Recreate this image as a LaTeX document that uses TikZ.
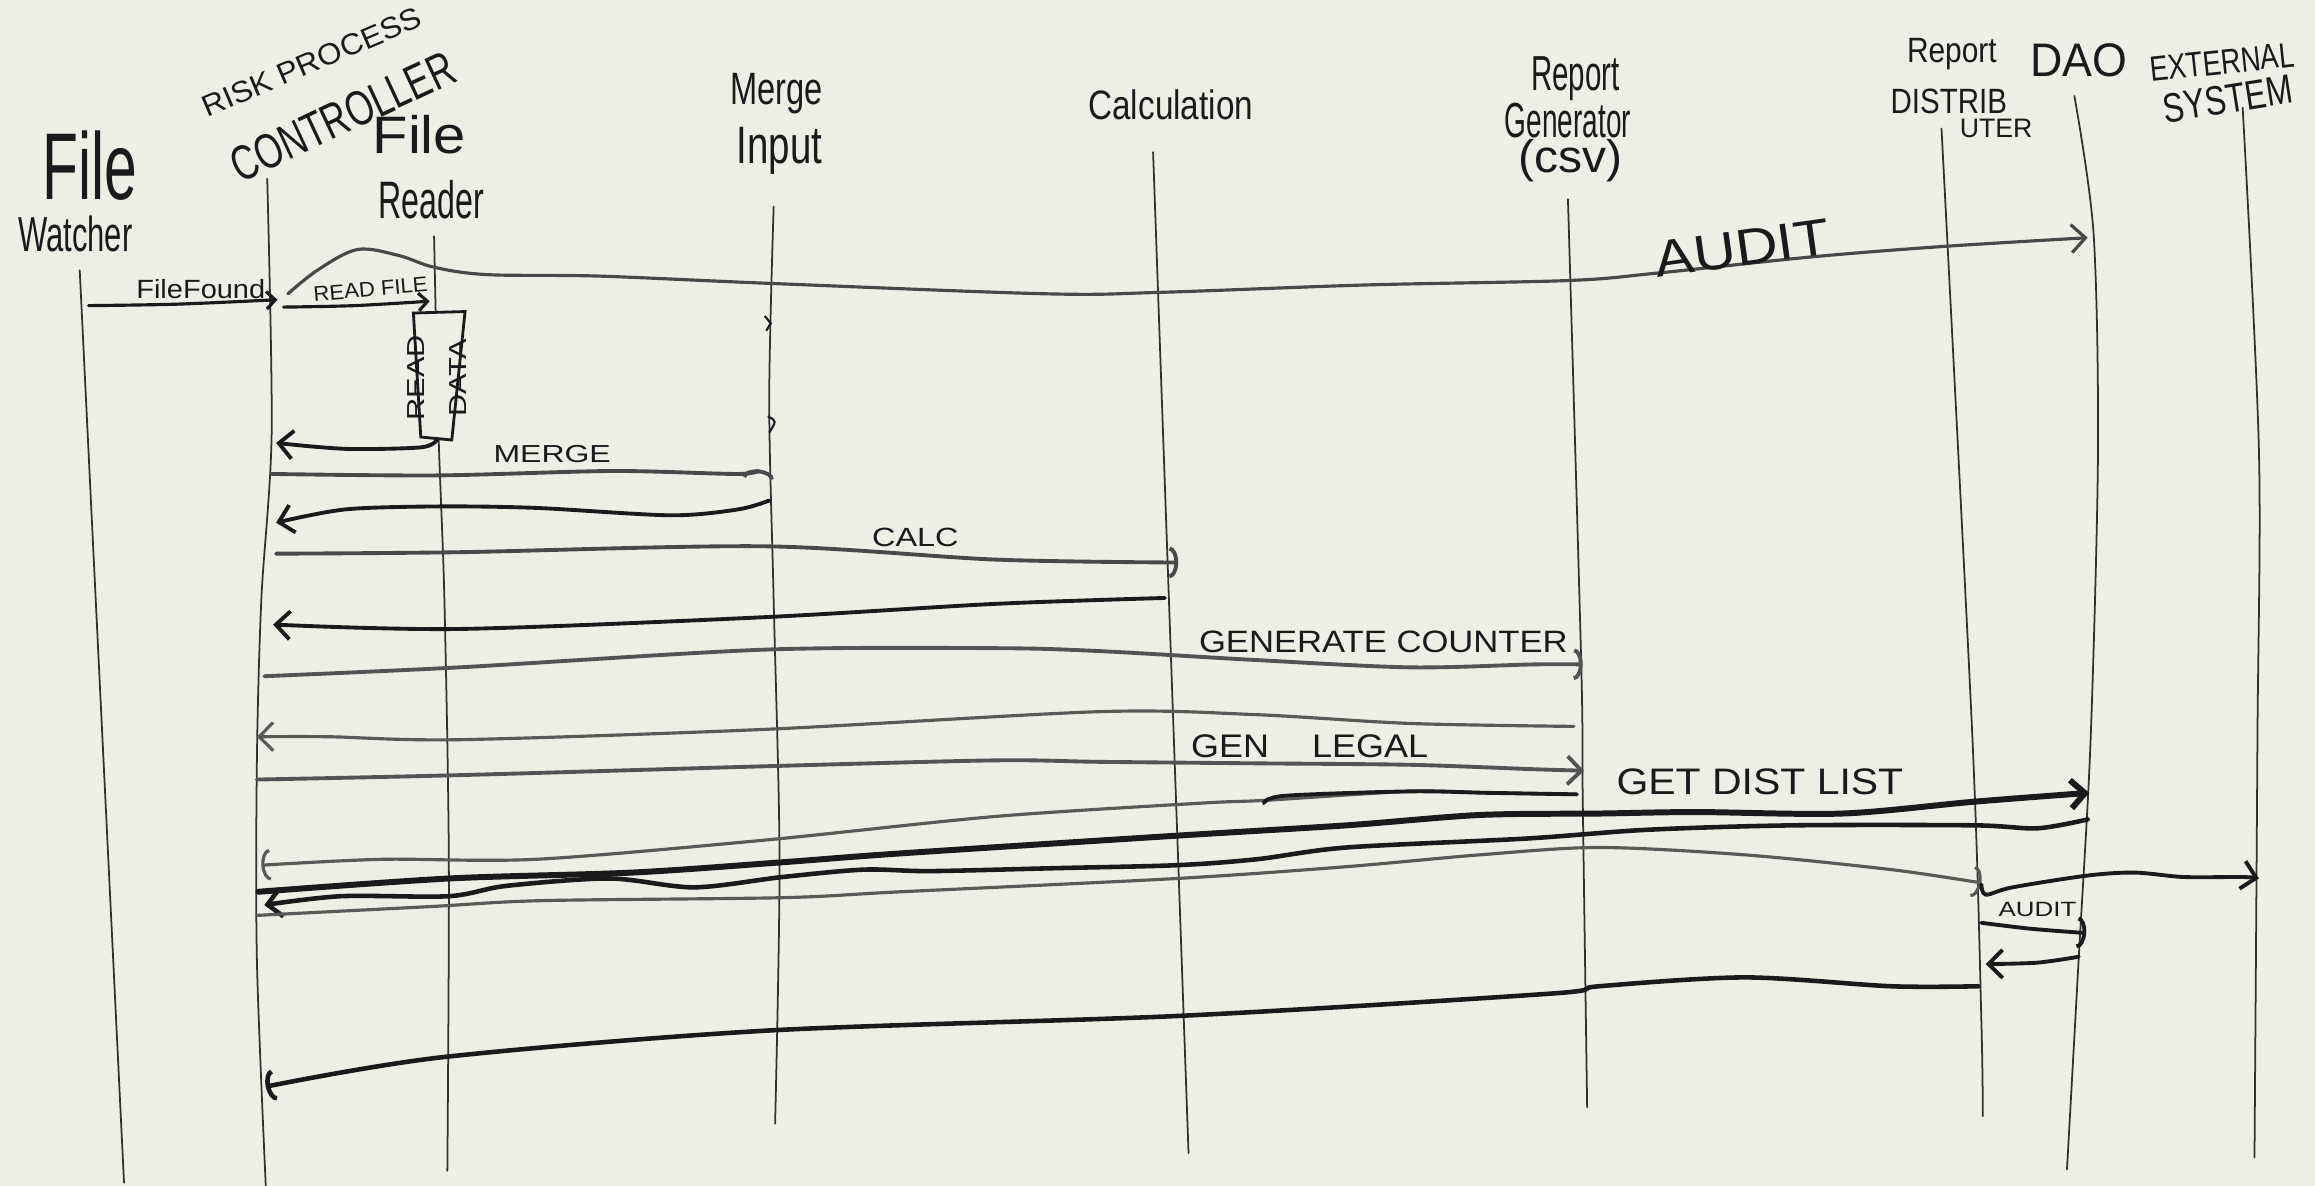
\documentclass[tikz,border=0pt]{standalone}
\usepackage{fontspec}
\setmainfont{Liberation Sans}
\usepackage{graphicx}
\usetikzlibrary{arrows.meta}
\definecolor{board}{RGB}{236,239,229}
\definecolor{ink}{RGB}{26,26,28}
\definecolor{inkg}{RGB}{88,90,88}
% size, horizontal squeeze, text
\newcommand{\hw}[3]{\fontsize{#1}{#1}\selectfont\scalebox{#2}[1]{#3}}

\begin{document}
\begin{tikzpicture}[x=0.014764cm, y=-0.014764cm,
  life/.style={draw=ink!90, line width=0.5pt, line cap=round},
  msg/.style={draw=ink, line width=1.1pt, line cap=round, line join=round},
  msgg/.style={draw=inkg, line width=0.9pt, line cap=round, line join=round},
  msgt/.style={draw=ink, line width=1.7pt, line cap=round, line join=round},
  barb/.style={-{Straight Barb[length=4pt,width=8pt]}},
  sbarb/.style={-{Straight Barb[length=2.5pt,width=5pt]}},
  arc/.style={-{Arc Barb[length=2.5pt,width=9pt]}},
  lbl/.style={inner sep=0pt, text=ink, anchor=base},
  tag/.style={inner sep=0pt, text=ink},
]
\useasboundingbox (0,0) rectangle (1568,803);
\fill[board] (0,0) rectangle (1568,803);

% ---------- participant headings ----------
\node[lbl] (fwA) at (61,135) {\hw{27}{0.62}{File}};
\node[lbl] (fwB) at (51,170) {\hw{14}{0.63}{Watcher}};
\node[tag, rotate=23] (ctlA) at (211,42) {\hw{8.5}{1.05}{RISK PROCESS}};
\node[tag, rotate=25] (ctlB) at (232,79) {\hw{14}{0.72}{CONTROLLER}};
\node[lbl] (frA) at (284,104) {\hw{15}{1.1}{File}};
\node[lbl] (frB) at (292,148) {\hw{15}{0.61}{Reader}};
\node[lbl] (miA) at (526,71) {\hw{12.9}{0.72}{Merge}};
\node[lbl] (miB) at (528,111) {\hw{15}{0.73}{Input}};
\node[lbl] (caA) at (793,81) {\hw{11.7}{0.81}{Calculation}};
\node[lbl] (rgA) at (1067,61) {\hw{14}{0.6}{Report}};
\node[lbl] (rgB) at (1062,93) {\hw{14}{0.57}{Generator}};
\node[lbl] (rgC) at (1064,117) {\hw{13}{1.05}{(csv)}};
\node[lbl] (rdA) at (1322,42) {\hw{10}{0.85}{Report}};
\node[lbl] (rdB) at (1320,77) {\hw{10}{0.84}{DISTRIB}};
\node[lbl] (rdC) at (1352,93) {\hw{7.6}{1.0}{UTER}};
\node[lbl] (dao) at (1408,52) {\hw{13.4}{0.95}{DAO}};
\node[tag, rotate=6] (exA) at (1505,42) {\hw{10}{0.78}{EXTERNAL}};
\node[tag, rotate=9] (exB) at (1509,67) {\hw{11.7}{0.77}{SYSTEM}};

% ---------- lifelines ----------
\coordinate (fwT) at (54,183);   \coordinate (fwE) at (84,801);
\coordinate (ctT) at (181,121);  \coordinate (ctE) at (180,803);
\coordinate (frT) at (294,160);  \coordinate (frE) at (303,793);
\coordinate (miT) at (524,140);  \coordinate (miE) at (525,761);
\coordinate (caT) at (781,103);  \coordinate (caE) at (805,781);
\coordinate (rgT) at (1062,135); \coordinate (rgE) at (1075,750);
\coordinate (rdT) at (1315,87);  \coordinate (rdE) at (1343,756);
\coordinate (daT) at (1405,65);  \coordinate (daE) at (1400,792);
\coordinate (exT) at (1519,73);  \coordinate (exE) at (1527,784);

\draw[life] (fwT) -- (fwE);
\draw[life] plot[smooth, tension=0.5] coordinates {(ctT) (184,293) (177,406) (174,515) (174,650) (ctE)};
\draw[life] plot[smooth, tension=0.5] coordinates {(frT) (297,293) (301,406) (304,583) (frE)};
\draw[life] plot[smooth, tension=0.5] coordinates {(miT) (521,271) (524,406) (528,583) (miE)};
\draw[life] (caT) -- (caE);
\draw[life] plot[smooth, tension=0.5] coordinates {(rgT) (1071,450) (1072,540) (rgE)};
\draw[life] plot[smooth, tension=0.5] coordinates {(rdT) (1336,501) (1342,691) (rdE)};
\draw[life] plot[smooth, tension=0.5] coordinates {(daT) (1418,158) (1421,305) (1416,501) (1408,648) (daE)};
\draw[life] plot[smooth, tension=0.5] coordinates {(exT) (1530,305) (1529,501) (exE)};

% small ticks on the Merge Input lifeline
\draw[ink, line width=0.6pt] (518,214) -- (522,219) -- (519,224);
\draw[ink, line width=0.6pt] (520,282) .. controls (526,285) .. (521,293);

% ---------- activation box on the file reader ----------
\filldraw[fill=board, draw=ink, line width=0.8pt] (280,212) -- (315,211) -- (306,298) -- (285,296) -- cycle;
\node[tag, rotate=90, align=center] (tData) at (296,256)
  {\hw{7}{1.25}{READ}\\\hw{7}{1.25}{DATA}};

% ---------- messages ----------
% file found
\coordinate (m1a) at (60,207);  \coordinate (m1b) at (188,203);
\draw[msg, sbarb, line width=0.9pt] plot[smooth] coordinates {(m1a) (120,206) (m1b)};
\node[lbl] (tFound) at (136,202) {\hw{7.5}{1.1}{FileFound}};

% read file
\coordinate (m2a) at (192,208); \coordinate (m2b) at (291,204);
\draw[msg, sbarb, line width=0.9pt] plot[smooth] coordinates {(m2a) (240,207) (m2b)};
\node[tag, rotate=5] (tRead) at (251,196) {\hw{6}{1.05}{READ FILE}};

% audit (to DAO)
\coordinate (m3a) at (195,199); \coordinate (m3b) at (1414,161);
\draw[msg, draw=ink!80, line width=0.9pt, barb] plot[smooth, tension=0.55] coordinates {(m3a) (215,183) (242,169) (270,173) (294,181) (330,186) (406,187) (523,192) (709,199) (786,198) (925,193) (1062,190) (1122,185) (1227,174) (1315,167) (m3b)};
\node[tag, rotate=8] (tAudit) at (1180,168) {\hw{14.6}{1.14}{AUDIT}};

% reader returns
\coordinate (m4a) at (296,298); \coordinate (m4b) at (187,300);
\draw[msg, barb] plot[smooth, tension=0.5] coordinates {(m4a) (285,303) (234,304) (m4b)};

% merge
\coordinate (m5a) at (184,321); \coordinate (m5b) at (514,318);
\draw[msg, draw=ink!80, arc] plot[smooth, tension=0.5] coordinates {(m5a) (296,322) (415,319) (500,321) (m5b)};
\node[lbl] (tMerge) at (374,313) {\hw{7}{1.3}{MERGE}};

% merge returns
\coordinate (m6a) at (521,339); \coordinate (m6b) at (187,354);
\draw[msg, barb] plot[smooth, tension=0.5] coordinates {(m6a) (500,345) (454,349) (363,344) (298,343) (234,345) (m6b)};

% calc
\coordinate (m7a) at (187,375); \coordinate (m7b) at (798,381);
\draw[msg, draw=ink!80, arc] plot[smooth, tension=0.5] coordinates {(m7a) (311,374) (518,370) (674,379) (m7b)};
\node[lbl] (tCalc) at (620,370) {\hw{7.5}{1.23}{CALC}};

% calc returns
\coordinate (m8a) at (789,405); \coordinate (m8b) at (185,423);
\draw[msg, barb] plot[smooth, tension=0.5] coordinates {(m8a) (674,409) (518,418) (311,426) (m8b)};

% generate counter
\coordinate (m9a) at (179,458); \coordinate (m9b) at (1072,450);
\draw[msg, draw=ink!75, arc] plot[smooth, tension=0.5] coordinates {(m9a) (311,452) (518,440) (674,439) (745,441) (850,447) (955,452) (1039,450) (m9b)};
\node[lbl] (tGen) at (937,442) {\hw{8.8}{1.12}{GENERATE COUNTER}};

% report generator returns
\coordinate (m10a) at (1066,492); \coordinate (m10b) at (174,499);
\draw[msgg, barb] plot[smooth, tension=0.5] coordinates {(m10a) (955,490) (850,484) (745,482) (518,494) (311,501) (223,499) (m10b)};

% gen legal
\coordinate (m11a) at (174,528); \coordinate (m11b) at (1073,522);
\draw[msg, draw=ink!75, barb] plot[smooth, tension=0.5] coordinates {(m11a) (311,525) (518,519) (674,515) (745,516) (850,517) (955,518) (1039,521) (m11b)};
\node[lbl] (tLegal) at (887,513) {\hw{9.3}{1.1}{GEN\hspace{1.2em}LEGAL}};

% report generator returns again
\coordinate (m12a) at (1068,538); \coordinate (m12b) at (177,586);
\draw[msgg, arc] plot[smooth, tension=0.5] coordinates {(m12a) (1008,537) (955,536) (858,542) (813,544) (674,553) (518,569) (363,582) (259,582) (m12b)};
\draw[msg] plot[smooth, tension=0.5] coordinates {(m12a) (1008,537) (955,536) (870,539) (856,544)};

% get dist list
\coordinate (m13a) at (175,604); \coordinate (m13b) at (1415,537);
\draw[msgt, barb] plot[smooth, tension=0.5] coordinates {(m13a) (304,595) (428,591) (530,584) (610,578) (797,566) (912,559) (1002,552) (1084,551) (1149,550) (1248,551) (1337,543) (m13b)};
\node[lbl] (tDist) at (1192,538) {\hw{10.5}{1.11}{GET DIST LIST}};

% DAO returns
\coordinate (m14a) at (1414,555); \coordinate (m14b) at (179,613);
\draw[msg, line width=1.3pt, barb] plot[smooth, tension=0.5] coordinates {(m14a) (1380,561) (1337,559) (1215,559) (1116,562) (1033,568) (912,574) (851,582) (797,586) (715,588) (630,590) (585,589) (530,594) (470,601) (413,595) (343,600) (304,607) (231,607) (m14b)};

% to report distributor
\coordinate (m15a) at (174,620); \coordinate (m15b) at (1342,598);
\draw[msgg, arc] plot[smooth, tension=0.5] coordinates {(m15a) (292,614) (367,610) (530,608) (610,604) (797,595) (912,587) (1002,579) (1083,574) (1182,579) (1281,589) (m15b)};

% to external system
\coordinate (m16a) at (1342,599); \coordinate (m16b) at (1530,595);
\draw[msg, barb] plot[smooth, tension=0.5] coordinates {(m16a) (1345,606) (1363,601) (1414,593) (1446,591) (1479,594) (1519,594) (m16b)};

% audit from report distributor
\coordinate (m17a) at (1342,625); \coordinate (m17b) at (1413,632);
\draw[msg, arc] plot[smooth, tension=0.5] coordinates {(m17a) (1375,629) (m17b)};
\node[lbl] (tAudit2) at (1380,621) {\hw{5.9}{1.25}{AUDIT}};

% DAO returns to report distributor
\coordinate (m18a) at (1408,648); \coordinate (m18b) at (1345,653);
\draw[msg, barb] plot[smooth, tension=0.5] coordinates {(m18a) (1380,652) (m18b)};

% report distributor returns to controller
\coordinate (m19a) at (1340,668); \coordinate (m19b) at (180,736);
\draw[msg, line width=1.3pt, arc] plot[smooth, tension=0.5] coordinates {(m19a) (1281,668) (1182,662) (1083,668) (1050,673) (800,688) (520,698) (300,716) (m19b)};

\end{tikzpicture}
\end{document}
